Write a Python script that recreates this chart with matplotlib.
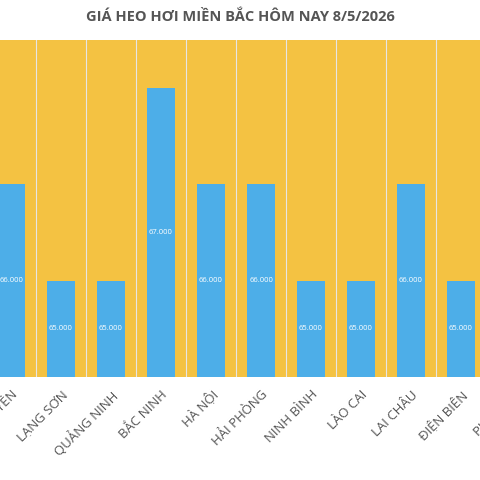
import matplotlib
matplotlib.use("Agg")
import matplotlib.pyplot as plt
from matplotlib.transforms import offset_copy

categories = ["THÁI NGUYÊN", "LẠNG SƠN", "QUẢNG NINH", "BẮC NINH", "HÀ NỘI", "HẢI PHÒNG",
              "NINH BÌNH", "LÀO CAI", "LAI CHÂU", "ĐIỆN BIÊN", "PHÚ THỌ"]
values = [66000, 65000, 65000, 67000, 66000, 66000, 65000, 65000, 66000, 65000, 66000]
title = "GIÁ HEO HƠI MIỀN BẮC HÔM NAY 8/5/2026"

plt.rcParams['font.family'] = ['Open Sans', 'DejaVu Sans']
fig = plt.figure(figsize=(4.8, 4.8), dpi=100)
ax = fig.add_axes([0, (480-377)/480, 1, 337/480])
ax.set_facecolor('#F4C242')
x = list(range(len(categories)))
ax.bar(x, values, width=0.56, color='#4DAEE8', zorder=3)
for xi, v in zip(x, values):
    ax.text(xi, (64000 + v) / 2, f"{v/1000:.3f}", ha='center', va='center',
            color='white', fontsize=5.5, zorder=4)
for b in range(len(categories) - 1):
    ax.axvline(b + 0.5, color='#E6E6E6', lw=0.8, zorder=2)
ax.set_yticks([])
ax.set_xticks([])
trans = offset_copy(ax.get_xaxis_transform(), fig=fig, x=0, y=-8, units='points')
for xi, c in zip(x, categories):
    ax.text(xi, 0, c, transform=trans, rotation=45, ha='right', va='top',
            rotation_mode='anchor', fontsize=9.5, color='#555555', clip_on=False)
ax.set_xlim(-0.22, 9.38)
ax.set_ylim(64000, 67500)
for s in ax.spines.values():
    s.set_visible(False)
fig.text(0.5, 0.965, title, ha='center', va='center', fontsize=10.5,
         fontweight='bold', color='#555555')
fig.savefig('out.png', dpi=100, facecolor='white')
